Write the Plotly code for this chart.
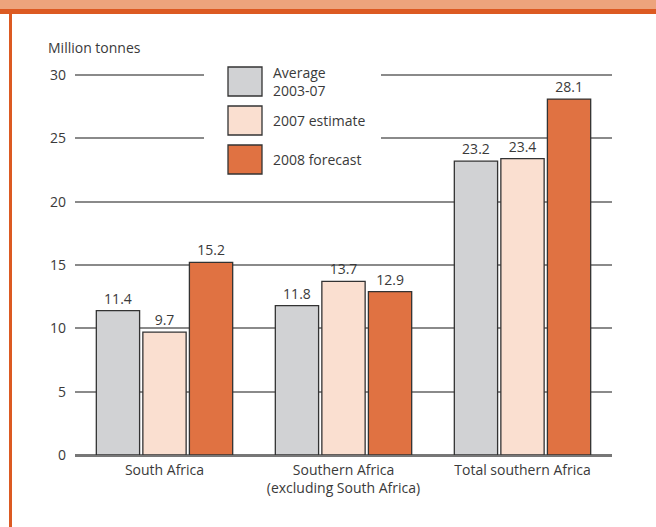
import plotly.graph_objects as go

categories = ["South Africa", "Southern Africa<br>(excluding South Africa)", "Total southern Africa"]
series_names = ["Average<br>2003-07", "2007 estimate", "2008 forecast"]
avg_2003_07 = [11.4, 11.8, 23.2]
est_2007 = [9.7, 13.7, 23.4]
fc_2008 = [15.2, 12.9, 28.1]
series_values = [avg_2003_07, est_2007, fc_2008]
colors = ["#D1D2D4", "#FADFD0", "#E07242"]
y_ticks = [0, 5, 10, 15, 20, 25, 30]

W, H = 656, 527
L, R, T, B = 75, 612, 74, 455

def px(x):
    return (x - L) / (R - L)

def py(y):
    return (B - y) / (B - T)

fig = go.Figure()
for name, vals, col in zip(series_names, series_values, colors):
    fig.add_trace(go.Bar(
        x=categories, y=vals, name=name,
        marker=dict(color=col, line=dict(color="#333333", width=1.3)),
        texttemplate="%{y:.1f}", textposition="outside",
        textfont=dict(size=14, color="#3a3a3a"),
        cliponaxis=False, showlegend=False,
    ))

shapes = []
# frame decorations
shapes.append(dict(type="rect", xref="paper", yref="paper", x0=px(0), x1=px(W), y0=py(0), y1=py(9),
                   fillcolor="#EDA47C", line=dict(width=0), layer="above"))
shapes.append(dict(type="rect", xref="paper", yref="paper", x0=px(0), x1=px(W), y0=py(9), y1=py(14),
                   fillcolor="#DC5A22", line=dict(width=0), layer="above"))
shapes.append(dict(type="rect", xref="paper", yref="paper", x0=px(9), x1=px(12), y0=py(14), y1=py(H),
                   fillcolor="#DC5A22", line=dict(width=0), layer="above"))
# legend background
shapes.append(dict(type="rect", xref="paper", yref="paper", x0=px(204), x1=px(381), y0=py(58), y1=py(185),
                   fillcolor="white", line=dict(width=0), layer="above"))
box_tops = [67, 106, 145]
annotations = []
for i, (name, col) in enumerate(zip(series_names, colors)):
    t = box_tops[i]
    shapes.append(dict(type="rect", xref="paper", yref="paper", x0=px(228), x1=px(262), y0=py(t), y1=py(t + 29),
                       fillcolor=col, line=dict(color="#333333", width=1.3), layer="above"))
    annotations.append(dict(xref="paper", yref="paper", x=px(271), y=py(t + 14.5), text=name,
                            showarrow=False, xanchor="left", yanchor="middle", align="left",
                            font=dict(size=14, color="#3a3a3a")))

annotations.append(dict(xref="paper", yref="paper", x=px(46), y=py(48), text="Million tonnes",
                        showarrow=False, xanchor="left", yanchor="middle",
                        font=dict(size=14, color="#3a3a3a")))

fig.update_layout(
    width=W, height=H,
    margin=dict(l=L, r=W - R, t=T, b=H - B),
    paper_bgcolor="white", plot_bgcolor="white",
    font=dict(family="Open Sans", size=14, color="#3a3a3a"),
    barmode="group", bargap=0.22, bargroupgap=0.07,
    shapes=shapes, annotations=annotations,
    xaxis=dict(showgrid=False, showline=False, ticks="", tickfont=dict(size=14, color="#3a3a3a"),
               ticklabelstandoff=5),
    yaxis=dict(range=[0, 30.08], tickvals=y_ticks, showgrid=True, gridcolor="#8a8a8a", gridwidth=2,
               zeroline=True, zerolinecolor="#777777", zerolinewidth=3,
               ticks="", ticklabelstandoff=8, tickfont=dict(size=14, color="#3a3a3a")),
)

fig.write_html("out.html")
